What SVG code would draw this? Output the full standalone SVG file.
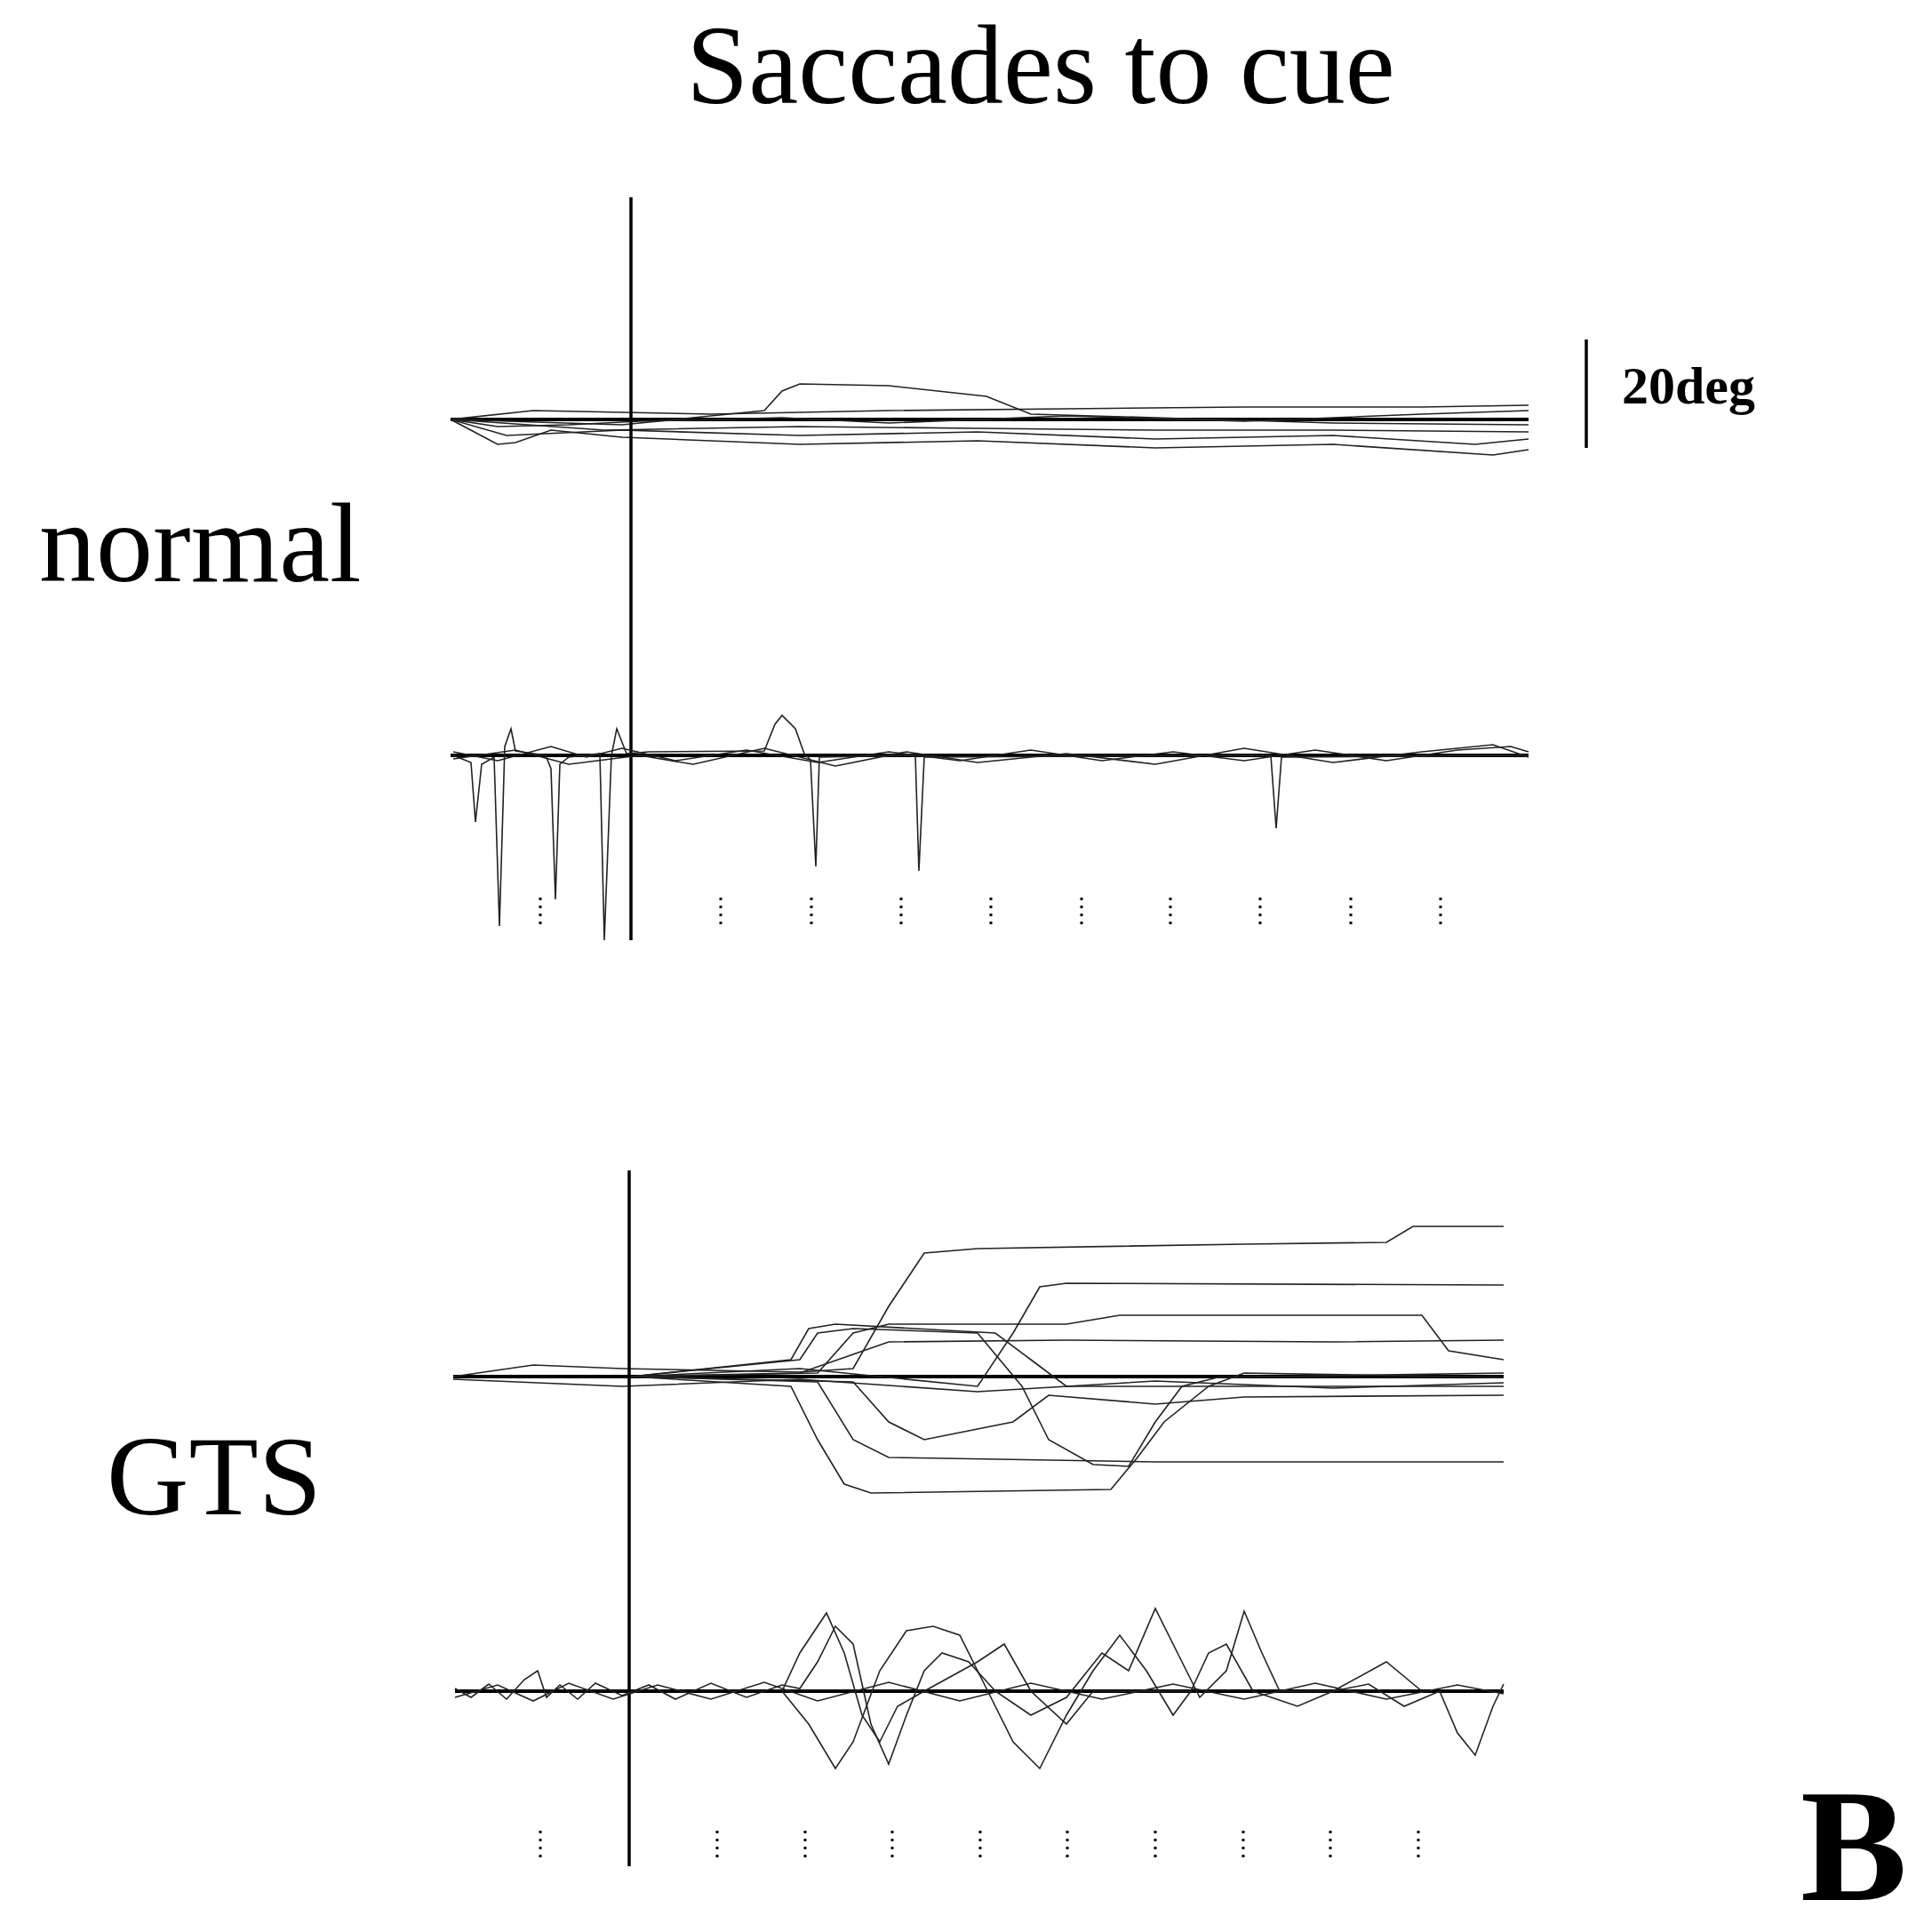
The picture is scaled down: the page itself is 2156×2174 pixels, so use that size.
<svg xmlns="http://www.w3.org/2000/svg" width="2156" height="2174" viewBox="0 0 2156 2174">
<style>
.t{font-family:"Liberation Serif",serif;fill:#000}
.tr{fill:none;stroke:#222;stroke-width:1.6}
.th{fill:none;stroke:#000;stroke-width:4}
.ax{stroke:#000;stroke-width:3.5}
.d{stroke:#000;stroke-width:3;stroke-dasharray:3 6}
</style>
<rect width="2156" height="2174" fill="#fff"/>
<text class="t" x="1171" y="116" font-size="126" text-anchor="middle">Saccades to cue</text>
<text class="t" x="44" y="654" font-size="128">normal</text>
<text class="t" x="120" y="1704" font-size="128">GTS</text>
<text class="t" x="1825" y="454" font-size="60" font-weight="bold">20deg</text>
<text class="t" x="2026" y="2138" font-size="180" font-weight="bold">B</text>
<line class="ax" x1="1785" y1="382" x2="1785" y2="504"/>
<g>
<path class="th" d="M507 472 L1720 472"/>
<path class="tr" d="M507 472 L560 480 L640 478 L720 474 L880 470 L1000 476 L1200 468 L1400 474 L1600 466 L1720 462"/>
<path class="tr" d="M507 472 L570 490 L700 484 L900 490 L1100 486 L1300 494 L1500 490 L1660 500 L1720 494"/>
<path class="tr" d="M507 472 L600 462 L800 466 L1000 462 L1200 460 L1400 458 L1600 458 L1720 456"/>
<path class="tr" d="M507 472 L560 500 L580 498 L620 484 L700 492 L900 500 L1100 496 L1300 504 L1500 500 L1680 512 L1720 506"/>
<path class="tr" d="M507 472 L700 478 L860 462 L880 440 L900 432 L1000 434 L1110 446 L1160 466 L1300 470 L1500 476 L1720 478"/>
<path class="tr" d="M507 472 L680 484 L900 480 L1100 482 L1300 484 L1500 484 L1720 486"/>
</g>
<line class="ax" x1="710" y1="222" x2="710" y2="1058"/>
<g>
<path class="th" d="M507 850 L1720 850"/>
<path class="tr" d="M510 850 L530 858 L535 925 L542 860 L556 852 L562 1042 L568 840 L575 820 L580 845 L614 850 L620 865 L625 1012 L630 860 L640 852 L675 848 L680 1058 L688 850 L694 820 L705 848 L730 846 L860 845 L872 815 L880 805 L895 820 L905 848 L912 855 L918 975 L922 852 L1030 850 L1034 980 L1040 852 L1430 850 L1436 932 L1442 852 L1720 850"/>
<path class="tr" d="M510 846 L560 856 L620 840 L660 852 L700 842 L760 856 L840 844 L920 858 L1000 846 L1080 856 L1160 844 L1240 856 L1320 846 L1400 856 L1480 844 L1560 856 L1640 844 L1700 840 L1720 846"/>
<path class="tr" d="M510 854 L580 844 L640 860 L720 850 L780 860 L860 842 L940 862 L1020 846 L1100 858 L1200 848 L1300 860 L1400 842 L1500 858 L1600 846 L1680 838 L1720 852"/>
</g>
<g>
<line class="d" x1="608" y1="1010" x2="608" y2="1040"/><line class="d" x1="811" y1="1010" x2="811" y2="1040"/><line class="d" x1="913" y1="1010" x2="913" y2="1040"/><line class="d" x1="1014" y1="1010" x2="1014" y2="1040"/><line class="d" x1="1115" y1="1010" x2="1115" y2="1040"/><line class="d" x1="1217" y1="1010" x2="1217" y2="1040"/><line class="d" x1="1317" y1="1010" x2="1317" y2="1040"/><line class="d" x1="1418" y1="1010" x2="1418" y2="1040"/><line class="d" x1="1520" y1="1010" x2="1520" y2="1040"/><line class="d" x1="1621" y1="1010" x2="1621" y2="1040"/>
</g>
<g>
<path class="th" d="M510 1549 L1692 1549"/>
<path class="tr" d="M510 1549 L600 1536 L700 1540 L900 1544 L960 1540 L1000 1470 L1040 1410 L1100 1405 L1400 1400 L1560 1398 L1590 1380 L1692 1380"/>
<path class="tr" d="M710 1549 L900 1540 L1100 1560 L1140 1500 L1170 1448 L1200 1444 L1692 1446"/>
<path class="tr" d="M710 1549 L890 1560 L920 1620 L950 1670 L980 1680 L1250 1676 L1280 1640 L1310 1600 L1360 1560 L1400 1545 L1692 1550"/>
<path class="tr" d="M710 1549 L900 1530 L920 1500 L960 1495 L1100 1500 L1150 1560 L1180 1620 L1230 1648 L1270 1650 L1300 1600 L1330 1560 L1370 1550 L1692 1545"/>
<path class="tr" d="M710 1549 L920 1555 L960 1620 L1000 1640 L1300 1645 L1692 1645"/>
<path class="tr" d="M710 1549 L890 1530 L910 1495 L940 1490 L1120 1500 L1160 1530 L1200 1560 L1300 1560 L1692 1560"/>
<path class="tr" d="M710 1549 L920 1545 L960 1500 L1000 1490 L1200 1490 L1260 1480 L1600 1480 L1630 1520 L1692 1530"/>
<path class="tr" d="M710 1549 L960 1555 L1000 1600 L1040 1620 L1140 1600 L1180 1570 L1300 1580 L1400 1572 L1692 1570"/>
<path class="tr" d="M710 1549 L900 1545 L1000 1510 L1200 1508 L1500 1510 L1692 1508"/>
<path class="tr" d="M510 1552 L700 1560 L900 1552 L1100 1566 L1300 1554 L1500 1562 L1692 1556"/>
</g>
<line class="ax" x1="708" y1="1317" x2="708" y2="2100"/>
<g>
<path class="th" d="M512 1903 L1692 1903"/>
<path class="tr" d="M512 1900 L530 1910 L550 1895 L570 1912 L590 1890 L605 1880 L615 1910 L630 1896 L650 1912 L670 1894 L700 1908 L730 1896 L760 1912 L800 1894 L840 1910 L880 1896 L900 1900 L920 1870 L940 1830 L960 1850 L980 1940 L1000 1985 L1020 1930 L1040 1880 L1060 1860 L1090 1870 L1120 1903 L1160 1930 L1200 1910 L1240 1860 L1270 1880 L1300 1810 L1330 1870 L1350 1910 L1380 1880 L1400 1813 L1420 1860 L1440 1903 L1500 1903 L1540 1895 L1580 1920 L1620 1903 L1640 1950 L1660 1975 L1680 1920 L1692 1895"/>
<path class="tr" d="M880 1903 L910 1940 L940 1990 L960 1960 L990 1880 L1020 1835 L1050 1830 L1080 1840 L1110 1900 L1140 1960 L1170 1990 L1200 1930 L1230 1880 L1260 1840 L1290 1880 L1320 1930 L1340 1903"/>
<path class="tr" d="M880 1903 L900 1860 L930 1815 L950 1860 L970 1930 L990 1960 L1010 1920 L1040 1903 L1100 1870 L1130 1850 L1160 1903 L1200 1940 L1230 1903 L1340 1903 L1360 1860 L1380 1850 L1410 1903 L1460 1920 L1500 1903 L1560 1870 L1600 1903"/>
<path class="tr" d="M512 1910 L560 1896 L600 1914 L640 1894 L690 1912 L740 1896 L800 1912 L860 1893 L920 1914 L1000 1893 L1080 1914 L1160 1894 L1240 1912 L1320 1895 L1400 1912 L1480 1894 L1560 1912 L1640 1896 L1692 1906"/>
</g>
<g>
<line class="d" x1="608" y1="2060" x2="608" y2="2090"/><line class="d" x1="807" y1="2060" x2="807" y2="2090"/><line class="d" x1="906" y1="2060" x2="906" y2="2090"/><line class="d" x1="1004" y1="2060" x2="1004" y2="2090"/><line class="d" x1="1103" y1="2060" x2="1103" y2="2090"/><line class="d" x1="1201" y1="2060" x2="1201" y2="2090"/><line class="d" x1="1300" y1="2060" x2="1300" y2="2090"/><line class="d" x1="1399" y1="2060" x2="1399" y2="2090"/><line class="d" x1="1497" y1="2060" x2="1497" y2="2090"/><line class="d" x1="1596" y1="2060" x2="1596" y2="2090"/>
</g>
</svg>
